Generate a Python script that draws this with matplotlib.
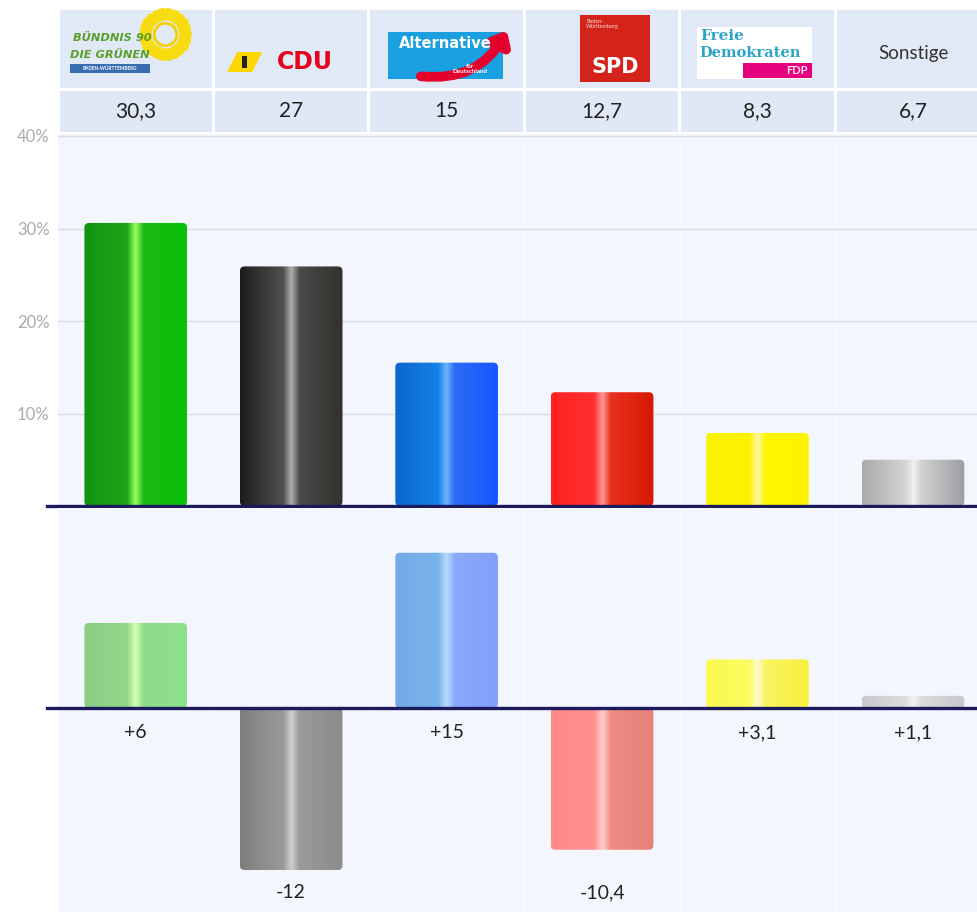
import numpy as np
import matplotlib
matplotlib.use("Agg")
import matplotlib.pyplot as plt
from matplotlib.colors import LinearSegmentedColormap
from matplotlib.patches import Rectangle, FancyBboxPatch, Polygon, FancyArrowPatch

plt.rcParams["font.family"] = ["Lato", "DejaVu Sans"]

# --- data (Landtagswahl Baden-Württemberg) ---
parties = ["GRÜNE", "CDU", "AfD", "SPD", "FDP", "Sonstige"]
shares = [30.3, 27, 15, 12.7, 8.3, 6.7]            # header numbers
changes = [6, -12, 15, -10.4, 3.1, 1.1]           # labels below lower chart
share_bars = [30.6, 25.9, 15.5, 12.3, 7.9, 5.0]   # bar heights as drawn
change_bars = [6.3, -12.0, 11.5, -10.5, 3.6, 0.9]
pct_ticks = [10, 20, 30, 40]

top_colors = [
    ["#129312", "#1ca514", "#9dff66", "#1ab914", "#08c208"],
    ["#1c1c1c", "#505050", "#b0b0b0", "#4a4a48", "#33312e"],
    ["#0a66cc", "#1680e8", "#6fb4ff", "#2a6cf5", "#1656ff"],
    ["#ff2020", "#ff3030", "#ff9a9a", "#e83020", "#d81800"],
    ["#f8f400", "#fff200", "#fff6a0", "#fff700", "#fff400"],
    ["#a9a9a9", "#d4d4d4", "#f0f0f0", "#d0d0d0", "#9d9fa3"],
]
low_colors = [
    ["#8ccc86", "#92d88a", "#d8ffb0", "#8edc8a", "#8ee08c"],
    ["#7f7f7f", "#9a9a9a", "#d0d0d0", "#9a9a9a", "#8c8c8c"],
    ["#72aae6", "#7ab4ec", "#b8dcff", "#8aaaf8", "#80a0ff"],
    ["#ff8a8a", "#ff9090", "#ffd0d0", "#ee8c84", "#e8807a"],
    ["#fafa50", "#fcfc60", "#fffbd0", "#f9f460", "#f8f040"],
    ["#c8c9cc", "#dcdcdc", "#f2f2f2", "#dadada", "#c8c9cc"],
]

W, H = 978, 917
XL = (-0.5, 5.418)
BG = "#f3f6fc"
NAVY = "#1b1a5c"

fig = plt.figure(figsize=(W / 100, H / 100), dpi=100)
fig.patch.set_facecolor("white")


def px_axes(x0, y0, x1, y1):
    return fig.add_axes([x0 / W, 1 - y1 / H, (x1 - x0) / W, (y1 - y0) / H])


def hx(px):
    # pixel x -> data x (column i centred at 135.5 + 155.5*i)
    return (px - 135.5) / 155.5


def gradient_bars(ax, values, colors, width, px_per_unit):
    bars = ax.bar(range(len(values)), values, width=width, color="none", edgecolor="none")
    grad = np.linspace(0, 1, 256).reshape(1, -1)
    for b, cols in zip(bars, colors):
        x0, y0 = b.get_x(), b.get_y()
        w, h = b.get_width(), b.get_height()
        ybot, ytop = min(y0, y0 + h), max(y0, y0 + h)
        clip = FancyBboxPatch((x0, ybot), w, ytop - ybot,
                              boxstyle="round,pad=0,rounding_size=0.03",
                              mutation_aspect=155.5 / px_per_unit,
                              facecolor="none", edgecolor="none")
        ax.add_patch(clip)
        cmap = LinearSegmentedColormap.from_list(
            "g", list(zip([0, 0.42, 0.5, 0.58, 1], cols)))
        im = ax.imshow(grad, cmap=cmap, aspect="auto", interpolation="bicubic",
                       extent=(x0, x0 + w, ybot, ytop), zorder=2)
        im.set_clip_path(clip)


def columns(ax):
    ax.set_facecolor(BG)
    for s in np.arange(0.5, 5.5, 1):
        ax.axvline(s, color="#fafbfe", lw=1.0, zorder=0)
    for sp in ax.spines.values():
        sp.set_visible(False)


# ---------------- header ----------------
hd = px_axes(58, 8, 978, 134)
hd.set_xlim(*XL)
hd.set_ylim(134, 8)
hd.axis("off")
for i in range(len(parties)):
    hd.add_patch(Rectangle((i - 0.49, 10), 0.98, 78, color="#e2e9f6", lw=0))
    hd.add_patch(Rectangle((i - 0.49, 91), 0.98, 41, color="#e0e7f5", lw=0))
    hd.text(i, 111, f"{shares[i]:g}".replace(".", ","), ha="center", va="center",
            fontsize=15, color="#222222")

# Grüne logo: sunflower + text
ang = np.linspace(0, 2 * np.pi, 22, endpoint=False)
hd.scatter(hx(165) + 20 * np.cos(ang) / 155.5, 34 + 20 * np.sin(ang),
           s=85, color="#f7dc12", lw=0, zorder=3)
hd.scatter([hx(165)], [34], s=330, color="#f3d000", lw=0, zorder=3)
hd.scatter([hx(165)], [34], s=200, color="#e2e9f6", lw=0, zorder=4)
hd.text(hx(73), 38, "BÜNDNIS 90", fontsize=8.2, color="#5a9e2c", weight="heavy",
        style="italic", family="DejaVu Sans", va="center", zorder=5)
hd.text(hx(70), 55, "DIE GRÜNEN", fontsize=8.2, color="#5a9e2c", weight="heavy",
        style="italic", family="DejaVu Sans", va="center", zorder=5)
hd.add_patch(Rectangle((hx(70), 64), 80 / 155.5, 9, color="#3a6db0", lw=0, zorder=5))
hd.text(hx(110), 68.5, "BADEN-WÜRTTEMBERG", fontsize=3.4, color="white",
        ha="center", va="center", weight="bold", zorder=6)

# CDU logo
hd.add_patch(Polygon([(hx(227), 72), (hx(237), 52), (hx(262), 52), (hx(252), 72)],
                     closed=True, color="#ffd700", lw=0))
hd.add_patch(Rectangle((hx(242), 56), 5 / 155.5, 12, color="#222222", lw=0))
hd.text(hx(305), 62, "CDU", fontsize=17, color="#e3001b", weight="heavy",
        family="DejaVu Sans", ha="center", va="center")

# AfD logo
hd.add_patch(Rectangle((hx(388), 32), 115 / 155.5, 47, color="#1aa0e0", lw=0))
hd.add_patch(FancyArrowPatch((hx(418), 76), (hx(508), 28),
                             connectionstyle="arc3,rad=0.35",
                             arrowstyle="-|>,head_length=7,head_width=6",
                             color="#e4002b", lw=7, zorder=3))
hd.text(hx(445), 44, "Alternative", fontsize=10.5, color="white", weight="bold",
        family="DejaVu Sans", ha="center", va="center", zorder=4)
hd.text(hx(470), 69, "für\nDeutschland", fontsize=4.5, color="white", weight="bold",
        ha="center", va="center", linespacing=0.9, zorder=4)

# SPD logo
hd.add_patch(Rectangle((hx(580), 15), 70 / 155.5, 67, color="#d3231a", lw=0))
hd.text(hx(615), 67, "SPD", fontsize=15, color="white", weight="heavy",
        family="DejaVu Sans", ha="center", va="center")
hd.text(hx(586), 19, "Baden-\nWürttemberg", fontsize=4, color="#ffd8d0",
        ha="left", va="top", linespacing=1.1)

# FDP logo
hd.add_patch(Rectangle((hx(697), 27), 115 / 155.5, 52, color="white", lw=0))
hd.text(hx(700), 36, "Freie", fontsize=11, color="#2aa5c8", weight="bold",
        family="DejaVu Serif", ha="left", va="center")
hd.text(hx(699), 53, "Demokraten", fontsize=10.5, color="#2aa5c8", weight="bold",
        family="DejaVu Serif", ha="left", va="center")
hd.add_patch(Rectangle((hx(743), 63), 69 / 155.5, 15, color="#e5007d", lw=0))
hd.text(hx(808), 71, "FDP", fontsize=8, color="#ffe0f0", weight="bold",
        ha="right", va="center")

# Sonstige
hd.text(5, 53, "Sonstige", fontsize=13.5, color="#333333", ha="center", va="center")

# ---------------- upper chart: shares ----------------
ax1 = px_axes(58, 134, 978, 506)
columns(ax1)
gradient_bars(ax1, share_bars, top_colors, 0.66, 9.25)
ax1.set_xlim(*XL)
ax1.set_ylim(0, 372 / 9.25)
ax1.set_xticks([])
ax1.set_yticks(pct_ticks)
ax1.set_yticklabels([f"{t}%" for t in pct_ticks])
ax1.tick_params(axis="y", length=0, pad=6, labelsize=12, labelcolor="#aaaaaa")
ax1.yaxis.grid(True, color="#d6dbe4", lw=1)
ax1.set_axisbelow(True)
ax1.plot([-0.012, 1], [0, 0], transform=ax1.get_yaxis_transform(),
         color=NAVY, lw=2.4, clip_on=False, zorder=5)

# ---------------- lower chart: changes ----------------
ax2 = px_axes(58, 508, 978, 912)
columns(ax2)
gradient_bars(ax2, change_bars, low_colors, 0.66, 13.5)
ax2.set_xlim(*XL)
ax2.set_ylim(-204 / 13.5, 200 / 13.5)
ax2.set_xticks([])
ax2.set_yticks([])
ax2.plot([-0.012, 1], [0, 0], transform=ax2.get_yaxis_transform(),
         color=NAVY, lw=2.4, clip_on=False, zorder=5)
for i, v in enumerate(changes):
    y = -1.85 if v >= 0 else -13.7
    ax2.text(i, y, f"{v:+g}".replace(".", ","), ha="center", va="center",
             fontsize=14, color="#222222")

fig.savefig("out.png", dpi=100)
